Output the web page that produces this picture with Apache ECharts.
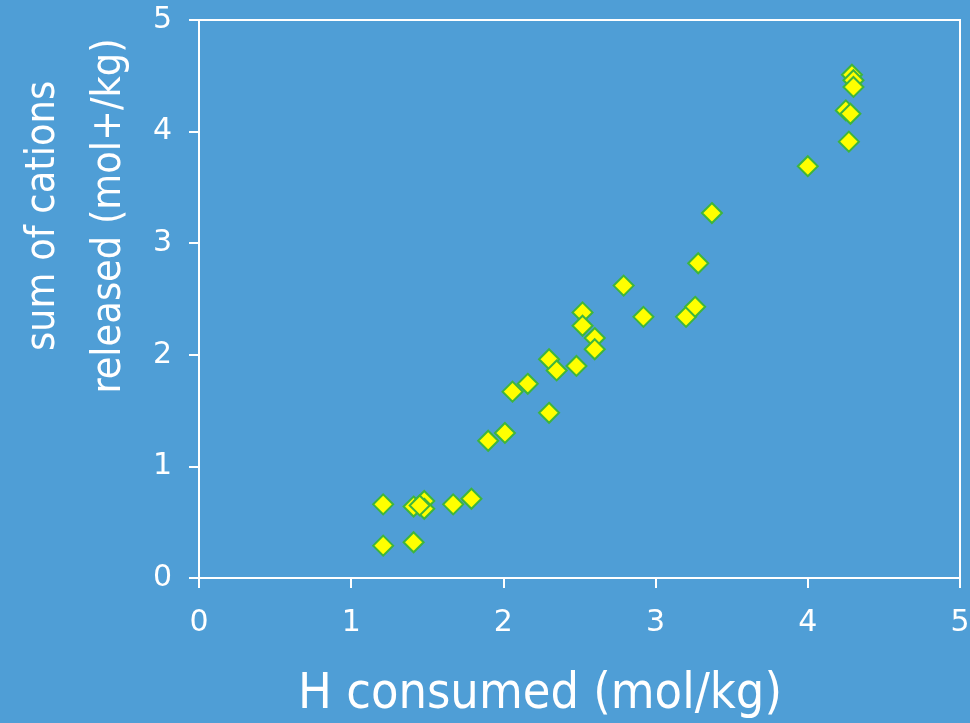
<!DOCTYPE html>
<html>
<head>
<meta charset="utf-8">
<script src="https://cdn.jsdelivr.net/npm/echarts@6/dist/echarts.min.js"></script>
<style>
html,body{margin:0;padding:0;background:#4F9ED6;}
#c{width:970px;height:723px;}
</style>
</head>
<body>
<div id="c"></div>
<script>
// H consumed (mol/kg)
var hConsumed = [1.21, 1.21, 1.41, 1.41, 1.48, 1.48, 1.45, 1.67, 1.79, 1.90, 2.01, 2.06, 2.16, 2.30, 2.30, 2.35, 2.48, 2.52, 2.52, 2.60, 2.60, 2.79, 2.92, 3.20, 3.26, 3.28, 3.37, 4.00, 4.27, 4.25, 4.28, 4.29, 4.30, 4.30];
// sum of cations released (mol+/kg)
var cationsReleased = [0.66, 0.29, 0.32, 0.64, 0.69, 0.62, 0.65, 0.66, 0.71, 1.23, 1.30, 1.67, 1.74, 1.48, 1.96, 1.86, 1.90, 2.38, 2.26, 2.15, 2.05, 2.62, 2.34, 2.34, 2.43, 2.82, 3.27, 3.69, 3.91, 4.19, 4.16, 4.51, 4.46, 4.40];
var axisTicks = [0, 1, 2, 3, 4, 5];
var xTitle = 'H consumed (mol/kg)';
var yTitle = 'sum of cations\nreleased (mol+/kg)';

var points = hConsumed.map(function (x, i) { return [x, cationsReleased[i]]; });

var chart = echarts.init(document.getElementById('c'), null, {renderer: 'canvas'});
var axisCommon = {
  type: 'value',
  min: axisTicks[0],
  max: axisTicks[axisTicks.length - 1],
  interval: 1,
  axisLine: {show: true, lineStyle: {color: '#ffffff', width: 2}},
  axisTick: {show: true, inside: false, length: 10, lineStyle: {color: '#ffffff', width: 2}},
  splitLine: {show: false},
  axisLabel: {color: '#ffffff', fontFamily: 'DejaVu Sans', fontSize: 30}
};
chart.setOption({
  backgroundColor: '#4F9ED6',
  animation: false,
  grid: {
    left: 199, right: 10, top: 20, bottom: 145,
    containLabel: false,
    outerBoundsMode: 'none',
    show: true,
    borderColor: '#ffffff',
    borderWidth: 2,
    backgroundColor: 'transparent'
  },
  xAxis: Object.assign({}, axisCommon, {
    axisLabel: Object.assign({}, axisCommon.axisLabel, {margin: 30})
  }),
  yAxis: Object.assign({}, axisCommon, {
    axisLabel: Object.assign({}, axisCommon.axisLabel, {margin: 27})
  }),
  graphic: [
    {
      type: 'text',
      x: 540, y: 695,
      style: {
        text: xTitle,
        fill: '#ffffff',
        font: '50px "DejaVu Sans Condensed"',
        align: 'center',
        verticalAlign: 'middle'
      }
    },
    {
      type: 'text',
      x: 76, y: 216,
      rotation: Math.PI / 2,
      style: {
        text: yTitle,
        fill: '#ffffff',
        font: '41px "DejaVu Sans Condensed"',
        lineHeight: 66,
        align: 'center',
        verticalAlign: 'middle'
      }
    }
  ],
  series: [{
    type: 'scatter',
    data: points,
    symbol: 'diamond',
    symbolSize: 20,
    itemStyle: {color: '#FFFF00', borderColor: '#3DB53D', borderWidth: 2, opacity: 1}
  }]
});
</script>
</body>
</html>
